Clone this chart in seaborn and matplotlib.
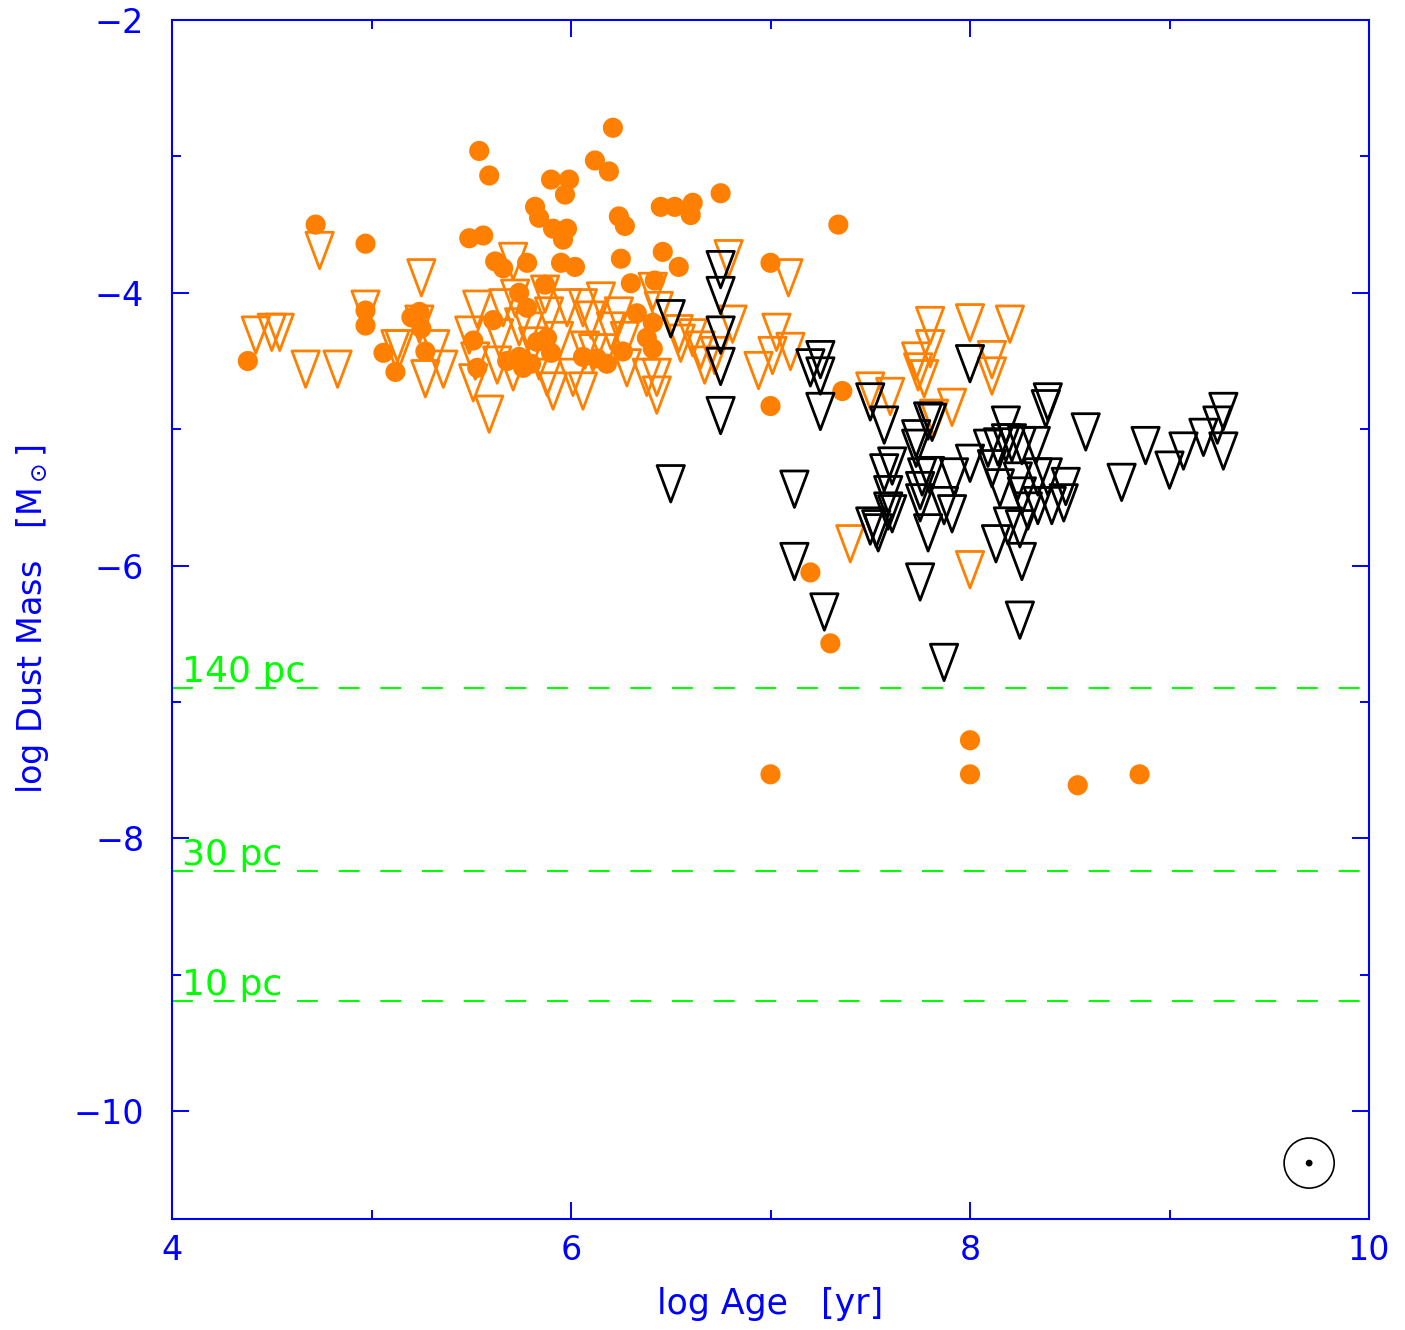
import matplotlib
matplotlib.use("Agg")
import matplotlib.pyplot as plt
import seaborn as sns
from matplotlib.path import Path

# ---------------- data ----------------
# detections (filled orange circles)
det_age = [4.38, 4.72, 4.97, 4.97, 4.97, 5.06, 5.12, 5.20, 5.24, 5.25,
           5.27, 5.49, 5.56, 5.54, 5.59, 5.62, 5.66, 5.61, 5.51, 5.53,
           5.74, 5.78, 5.78, 5.68, 5.74, 5.80, 5.88, 5.90, 5.87, 5.82,
           5.84, 5.90, 5.99, 5.97, 5.91, 5.98, 5.96, 5.95, 6.02, 6.12,
           6.19, 6.21, 6.24, 6.27, 6.25, 6.30, 6.42, 6.46, 6.54, 6.45,
           6.52, 6.61, 6.60, 6.75, 6.33, 6.41, 6.38, 6.41, 6.26, 6.18,
           6.13, 7.00, 7.00, 7.34, 7.36, 7.20, 7.30, 7.00, 8.00, 8.00,
           8.54, 8.85, 5.83, 5.76, 6.06]
det_mass = [-4.50, -3.50, -3.64, -4.13, -4.24, -4.44, -4.58, -4.18, -4.14, -4.26,
            -4.43, -3.60, -3.58, -2.96, -3.14, -3.77, -3.82, -4.20, -4.35, -4.55,
            -4.00, -3.78, -4.11, -4.50, -4.47, -4.52, -4.33, -4.44, -3.94, -3.37,
            -3.45, -3.17, -3.17, -3.28, -3.53, -3.53, -3.61, -3.78, -3.81, -3.03,
            -3.11, -2.79, -3.44, -3.51, -3.75, -3.93, -3.91, -3.70, -3.81, -3.37,
            -3.37, -3.34, -3.43, -3.27, -4.15, -4.22, -4.33, -4.41, -4.43, -4.52,
            -4.48, -3.78, -4.83, -3.50, -4.72, -6.05, -6.57, -7.53, -7.28, -7.53,
            -7.61, -7.53, -4.36, -4.55, -4.47]

# upper limits, young sample (open orange triangles)
lim_age = [4.42, 4.50, 4.54, 4.67, 4.83, 4.74, 4.97, 5.25, 5.12, 5.14,
           5.24, 5.32, 5.27, 5.36, 5.53, 5.49, 5.52, 5.51, 5.59, 5.71,
           5.66, 5.72, 5.64, 5.74, 5.63, 5.71, 5.87, 5.98, 6.06, 5.89,
           6.24, 6.41, 6.44, 6.54, 6.61, 6.07, 6.11, 5.81, 5.88, 6.01,
           6.38, 6.43, 6.28, 6.17, 6.55, 6.65, 5.91, 6.06, 6.43, 6.10,
           5.79, 5.94, 5.84, 6.20, 6.27, 6.15,
           6.79, 7.09, 6.81, 7.03, 7.01, 7.10, 6.94, 6.72, 6.67, 7.50,
           7.60, 7.80, 8.00, 8.20, 7.80, 7.73, 7.74, 7.77, 8.11, 8.11,
           7.91, 7.40, 8.00, 7.82]
lim_mass = [-4.31, -4.29, -4.29, -4.56, -4.56, -3.69, -4.12, -3.89, -4.41, -4.41,
            -4.23, -4.41, -4.63, -4.56, -4.12, -4.31, -4.50, -4.66, -4.89, -3.77,
            -4.11, -4.04, -4.33, -4.25, -4.53, -4.58, -4.01, -4.11, -4.11, -4.17,
            -4.17, -3.99, -4.13, -4.30, -4.33, -4.42, -4.44, -4.39, -4.62, -4.62,
            -4.62, -4.62, -4.55, -4.44, -4.37, -4.42, -4.72, -4.72, -4.75, -4.20,
            -4.28, -4.35, -4.50, -4.28, -4.35, -4.06,
            -3.75, -3.89, -4.23, -4.29, -4.46, -4.43, -4.57, -4.46, -4.53, -4.72,
            -4.76, -4.24, -4.22, -4.23, -4.41, -4.50, -4.58, -4.63, -4.49, -4.61,
            -4.84, -5.84, -6.03, -4.92]

# upper limits, older sample (open black triangles)
old_age = [6.75, 6.75, 6.75, 6.75, 6.75, 6.50, 6.50, 7.20, 7.25, 7.25,
           7.25, 7.12, 7.12, 7.27, 7.50, 7.57, 7.79, 7.81, 8.00, 7.73,
           7.73, 7.61, 7.57, 7.59, 7.59, 7.50, 7.53, 7.54, 7.61, 7.76,
           7.80, 7.75, 7.75, 7.79, 7.87, 7.91, 7.92, 8.00, 8.11, 8.15,
           8.18, 8.09, 8.14, 8.21, 8.26, 8.18, 8.24, 8.26, 8.34, 8.39,
           8.48, 8.41, 8.47, 8.29, 8.34, 8.19, 8.25, 8.13, 8.26, 7.75,
           8.25, 7.87, 8.39, 8.38, 8.58, 8.76, 8.88, 9.00, 9.07, 9.17,
           9.24, 9.27, 9.27, 8.33]
old_mass = [-3.83, -4.02, -4.31, -4.54, -4.90, -4.19, -5.40, -4.55, -4.49, -4.61,
            -4.87, -5.44, -5.97, -6.34, -4.80, -4.97, -4.94, -4.95, -4.52, -5.07,
            -5.14, -5.27, -5.32, -5.48, -5.60, -5.71, -5.73, -5.76, -5.62, -5.35,
            -5.34, -5.45, -5.54, -5.76, -5.56, -5.62, -5.35, -5.25, -5.29, -5.43,
            -4.97, -5.14, -5.13, -5.10, -5.12, -5.10, -5.38, -5.49, -5.35, -5.35,
            -5.42, -5.56, -5.54, -5.60, -5.56, -5.71, -5.73, -5.84, -5.97, -6.12,
            -6.40, -6.71, -4.80, -4.85, -5.02, -5.39, -5.12, -5.30, -5.16, -5.06,
            -4.97, -4.87, -5.16, -5.12]

# sensitivity limits for different distances
dist_labels = ["140 pc", "30 pc", "10 pc"]
dist_levels = [-6.90, -8.24, -9.19]

# solar symbol
sun_age = [9.70]
sun_mass = [-10.38]

x_major = [4, 6, 8, 10]
x_minor = [5, 7, 9]
y_major = [-10, -8, -6, -4, -2]
y_minor = [-9, -7, -5, -3]

# ---------------- style ----------------
ORANGE = (1.0, 0.5, 0.0)
GREEN = (0.0, 1.0, 0.0)
BLUE = (0.0, 0.0, 1.0)

sns.set_theme(style="white")
plt.rcParams["font.family"] = ["DejaVu Sans"]
plt.rcParams["mathtext.default"] = "regular"
plt.rcParams["axes.unicode_minus"] = True

fig = plt.figure(figsize=(14.05, 13.30), dpi=100)
ax = fig.add_axes([172 / 1405, 111 / 1330, 1197 / 1405, 1199 / 1330])

tri = Path([(-0.75, 1.0), (0.75, 1.0), (0.0, -1.0), (-0.75, 1.0)],
           [Path.MOVETO, Path.LINETO, Path.LINETO, Path.CLOSEPOLY])

sns.scatterplot(x=lim_age, y=lim_mass, marker=tri, s=690, facecolor="none",
                edgecolor=ORANGE, linewidth=2.0, ax=ax, zorder=3)
sns.scatterplot(x=det_age, y=det_mass, marker="o", s=210, color=ORANGE,
                edgecolor="none", linewidth=0, ax=ax, zorder=4)
sns.scatterplot(x=old_age, y=old_mass, marker=tri, s=690, facecolor="none",
                edgecolor="black", linewidth=2.0, ax=ax, zorder=5)

# sun symbol
sns.scatterplot(x=sun_age, y=sun_mass, marker="o", s=1300, facecolor="none",
                edgecolor="black", linewidth=1.2, ax=ax, zorder=5)
sns.scatterplot(x=sun_age, y=sun_mass, marker="o", s=24, color="black",
                edgecolor="none", linewidth=0, ax=ax, zorder=6)

for lev, lab in zip(dist_levels, dist_labels):
    ax.axhline(lev, color=GREEN, lw=1.5, dashes=(10, 10), zorder=2)
    ax.text(4.05, lev + 0.045, lab, color=GREEN, fontsize=26,
            ha="left", va="baseline", zorder=2)

ax.set_xlim(4, 10)
ax.set_ylim(-10.79, -2)
ax.set_xticks(x_major)
ax.set_xticks(x_minor, minor=True)
ax.set_yticks(y_major)
ax.set_yticks(y_minor, minor=True)

for sp in ax.spines.values():
    sp.set_color(BLUE)
    sp.set_linewidth(1.5)
    sp.set_visible(True)

ax.tick_params(which="both", direction="in", top=True, right=True,
               bottom=True, left=True, color=BLUE, labelcolor=BLUE)
ax.tick_params(which="major", length=12, width=1.4, labelsize=24)
ax.tick_params(which="minor", length=6.5, width=1.4)
ax.tick_params(axis="x", which="major", pad=11)
ax.tick_params(axis="y", which="major", pad=20)

ax.set_xlabel("log Age   [yr]", color=BLUE, fontsize=25, labelpad=14)
ax.set_ylabel(r"log Dust Mass   [M$_\odot$]", color=BLUE, fontsize=24,
              labelpad=16)
ax.grid(False)

fig.savefig("out.png", dpi=100)
